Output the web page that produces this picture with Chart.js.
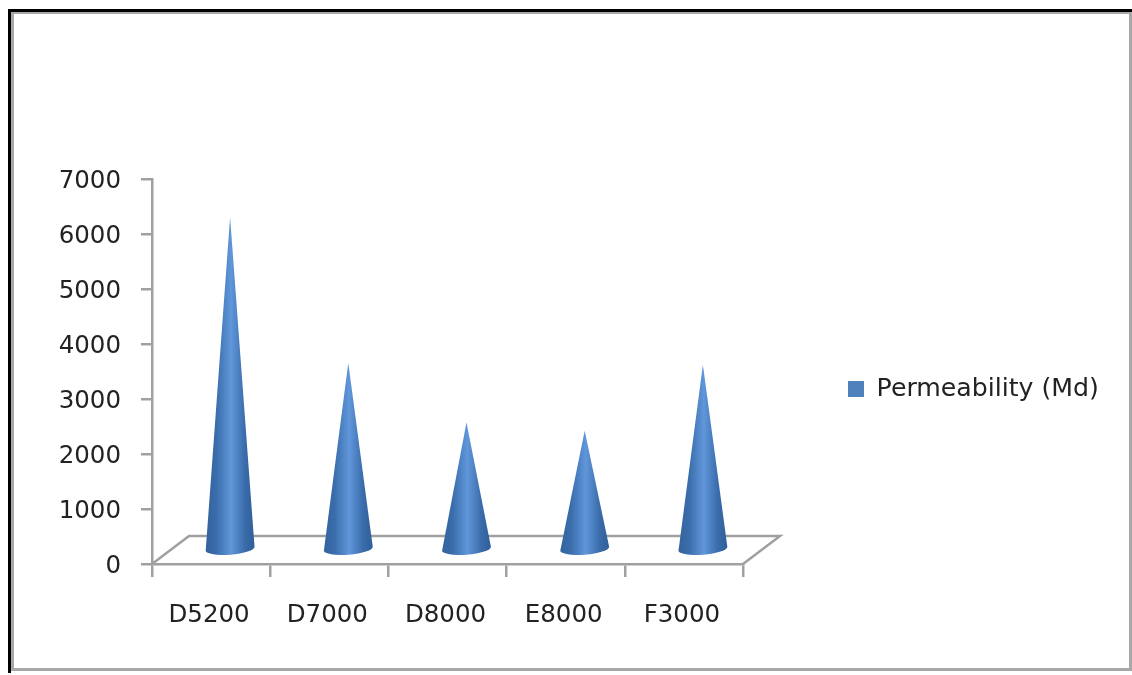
<!DOCTYPE html>
<html>
<head>
<meta charset="utf-8">
<title>Permeability</title>
<script src="https://cdn.jsdelivr.net/npm/chart.js@4"></script>
<style>
    html, body { margin: 0; padding: 0; background: #fff; overflow: hidden; }
    canvas { display: block; filter: blur(0.5px); }
</style>
</head>
<body>
<canvas id="permeabilityChart" width="1132" height="675"></canvas>
<script>
// Chart data
const categories = ['D5200', 'D7000', 'D8000', 'E8000', 'F3000'];
const permeability = [6050, 3400, 2320, 2170, 3370];
const seriesName = 'Permeability (Md)';

const axisColor = '#a0a0a0';
const fontFamily = '"DejaVu Sans", sans-serif';

// Frame around the whole picture
const framePlugin = {
    id: 'frame',
    beforeDraw(chart) {
        const ctx = chart.ctx;
        ctx.save();
        ctx.fillStyle = '#fff';
        ctx.fillRect(0, 0, chart.width, chart.height);
        ctx.strokeStyle = '#a8a8a8';
        ctx.lineWidth = 3;
        ctx.strokeRect(12.5, 12.5, 1118, 657);
        ctx.fillStyle = '#000';
        ctx.fillRect(8, 9, 1124, 3);
        ctx.fillRect(8, 9, 3, 664);
        ctx.restore();
    }
};

// Keep a wide empty gap between plot and legend, and lift the legend a bit
const legendPlacePlugin = {
    id: 'legendPlace',
    beforeInit(chart) {
        const originalFit = chart.legend.fit;
        chart.legend.fit = function () {
            originalFit.call(this);
            this.width = 389;
        };
    },
    afterLayout(chart) {
        chart.legend.bottom -= 76;
    }
};

// Floor parallelogram and the cones, placed from the bar elements
const conePlugin = {
    id: 'cones',
    beforeDatasetDraw(chart, args) {
        const ctx = chart.ctx;
        const area = chart.chartArea;
        const depthX = 37;
        const depthY = 28;

        ctx.save();
        ctx.strokeStyle = axisColor;
        ctx.lineWidth = 2.5;
        ctx.beginPath();
        ctx.moveTo(area.left, area.bottom);
        ctx.lineTo(area.left + depthX, area.bottom - depthY);
        ctx.lineTo(area.right + depthX, area.bottom - depthY);
        ctx.lineTo(area.right, area.bottom);
        ctx.stroke();

        args.meta.data.forEach(bar => {
            const cx = bar.x + depthX / 2 + 0.5;
            const baseY = bar.base - depthY / 2;
            const tipY = bar.y - depthY / 2;
            const rx = 24.5;

            const gradient = ctx.createLinearGradient(cx - rx, 0, cx + rx, 0);
            gradient.addColorStop(0, '#33639c');
            gradient.addColorStop(0.22, '#3a6dab');
            gradient.addColorStop(0.52, '#6097da');
            gradient.addColorStop(0.8, '#3a6cab');
            gradient.addColorStop(1, '#2f5f98');

            ctx.fillStyle = gradient;
            ctx.beginPath();
            ctx.moveTo(cx, tipY);
            ctx.ellipse(cx, baseY, rx, 6, -0.08, 0, Math.PI);
            ctx.closePath();
            ctx.fill();
        });
        ctx.restore();
        return false;
    }
};

new Chart(document.getElementById('permeabilityChart'), {
    type: 'bar',
    data: {
        labels: categories,
        datasets: [{
            label: seriesName,
            data: permeability,
            backgroundColor: '#4f81bd'
        }]
    },
    plugins: [framePlugin, legendPlacePlugin, conePlugin],
    options: {
        responsive: false,
        animation: false,
        layout: {
            padding: { top: 179, right: 0, bottom: 0, left: 0 }
        },
        scales: {
            x: {
                grid: {
                    drawOnChartArea: false,
                    color: axisColor,
                    lineWidth: 2.5,
                    tickLength: 13
                },
                border: { color: axisColor, width: 2.5 },
                ticks: {
                    color: '#222',
                    padding: 24,
                    labelOffset: -2,
                    maxRotation: 0,
                    font: { family: fontFamily, size: 24.5 }
                },
                afterFit(scale) { scale.height = 111; }
            },
            y: {
                min: 0,
                max: 7000,
                grid: {
                    drawOnChartArea: false,
                    color: axisColor,
                    lineWidth: 2.5,
                    tickLength: 11
                },
                border: { color: axisColor, width: 2.5 },
                ticks: {
                    color: '#222',
                    padding: 20,
                    labelOffset: 3,
                    stepSize: 1000,
                    callback: value => String(value),
                    font: { family: fontFamily, size: 24.5 }
                },
                afterFit(scale) { scale.width = 152; }
            }
        },
        plugins: {
            tooltip: { enabled: false },
            legend: {
                position: 'right',
                labels: {
                    color: '#222',
                    boxWidth: 16,
                    boxHeight: 16,
                    padding: 105,
                    font: { family: fontFamily, size: 25.2 }
                }
            }
        }
    }
});
</script>
</body>
</html>
